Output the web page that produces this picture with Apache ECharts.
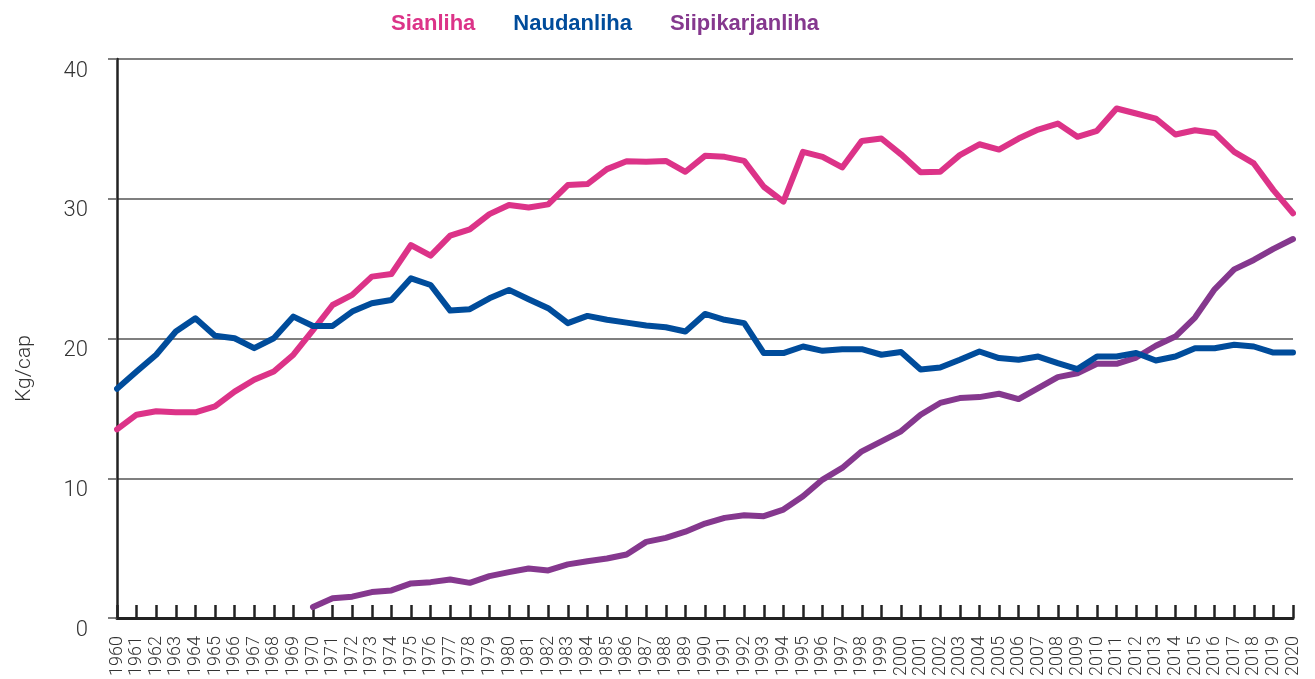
<!DOCTYPE html>
<html>
<head>
<meta charset="utf-8">
<title>Lihan kulutus</title>
<script src="https://cdn.jsdelivr.net/npm/echarts@6/dist/echarts.min.js"></script>
<style>
  html, body { margin: 0; padding: 0; background: #fff; }
  #chart { width: 1315px; height: 679px; }
</style>
</head>
<body>
<div id="chart"></div>
<script>
// vuodet 1960-2020
const years = []
for (let y = 1960; y <= 2020; y++) years.push(String(y))

const yTicks = [0, 10, 20, 30, 40]

// kg/cap
const sianliha = [
  13.5, 14.55, 14.8, 14.72, 14.72, 15.14, 16.2, 17.05, 17.64, 18.84,
  20.6, 22.4, 23.12, 24.43, 24.62, 26.69, 25.93, 27.36, 27.81, 28.9,
  29.55, 29.38, 29.6, 30.98, 31.05, 32.12, 32.69, 32.64, 32.71, 31.93,
  33.07, 33.0, 32.71, 30.86, 29.79, 33.36, 33.0, 32.24, 34.14, 34.31,
  33.18, 31.9, 31.93, 33.12, 33.9, 33.52, 34.31, 34.95, 35.38, 34.43,
  34.86, 36.46, 36.1, 35.74, 34.6, 34.9, 34.71, 33.36, 32.53, 30.62,
  28.96
]

const naudanliha = [
  16.41, 17.64, 18.84, 20.5, 21.45, 20.2, 20.02, 19.31, 20.02, 21.57,
  20.9, 20.9, 21.93, 22.52, 22.76, 24.31, 23.83, 22.0, 22.1, 22.88,
  23.48, 22.81, 22.17, 21.1, 21.62, 21.34, 21.14, 20.93, 20.81, 20.5,
  21.76, 21.34, 21.1, 18.96, 18.96, 19.43, 19.12, 19.24, 19.24, 18.84,
  19.03, 17.78, 17.93, 18.48, 19.07, 18.6, 18.48, 18.71, 18.24, 17.81,
  18.71, 18.71, 18.96, 18.43, 18.71, 19.31, 19.31, 19.55, 19.43, 19.0,
  19.0
]

const siipikarjanliha = [
  null, null, null, null, null, null, null, null, null, null,
  0.79, 1.41, 1.53, 1.86, 1.98, 2.48, 2.57, 2.76, 2.52, 3.0,
  3.29, 3.55, 3.41, 3.84, 4.07, 4.26, 4.55, 5.45, 5.74, 6.18,
  6.76, 7.17, 7.36, 7.29, 7.76, 8.71, 9.91, 10.74, 11.93, 12.64,
  13.36, 14.55, 15.39, 15.74, 15.81, 16.05, 15.67, 16.45, 17.24, 17.52,
  18.2, 18.19, 18.64, 19.48, 20.14, 21.5, 23.52, 24.95, 25.62, 26.41,
  27.12
]

const colors = {
  Sianliha: '#dc3388',
  Naudanliha: '#004c9b',
  Siipikarjanliha: '#85388e'
}

const chart = echarts.init(document.getElementById('chart'), null, { renderer: 'canvas' })

const lineSeries = (name, data, z) => ({
  name,
  type: 'line',
  data,
  z,
  symbol: 'none',
  connectNulls: false,
  animation: false,
  lineStyle: { color: colors[name], width: 6, cap: 'round', join: 'round' },
  itemStyle: { color: colors[name] }
})

chart.setOption({
  animation: false,
  legend: {
    left: 381,
    top: 8,
    icon: 'rect',
    itemWidth: 0,
    itemHeight: 0,
    itemGap: 33,
    selectedMode: false,
    textStyle: {
      fontFamily: 'Liberation Sans, Arial, sans-serif',
      fontWeight: 'bold',
      fontSize: 22
    },
    data: ['Sianliha', 'Naudanliha', 'Siipikarjanliha'].map((n) => ({
      name: n,
      textStyle: { color: colors[n] }
    }))
  },
  grid: {
    left: 117,
    right: 22,
    top: 59,
    bottom: 60,
    containLabel: false
  },
  xAxis: {
    type: 'category',
    data: years,
    boundaryGap: false,
    axisLine: { lineStyle: { color: '#222', width: 3 } },
    axisTick: {
      inside: true,
      length: 13,
      alignWithLabel: true,
      interval: 0,
      lineStyle: { color: '#222', width: 2.5 }
    },
    axisLabel: {
      interval: 0,
      rotate: 90,
      margin: 18,
      fontFamily: 'Roboto, sans-serif',
      fontWeight: 300,
      fontSize: 18,
      color: '#333'
    },
    splitLine: { show: false }
  },
  yAxis: {
    type: 'value',
    min: yTicks[0],
    max: yTicks[yTicks.length - 1],
    interval: 10,
    name: 'Kg/cap',
    nameLocation: 'middle',
    nameRotate: 90,
    nameGap: 82,
    nameTextStyle: {
      fontFamily: 'Roboto, sans-serif',
      fontWeight: 300,
      fontSize: 21,
      color: '#333',
      padding: [0, 60, 0, 0]
    },
    axisLine: { show: true, lineStyle: { color: '#222', width: 2.5 } },
    axisTick: { show: true, length: 9, lineStyle: { color: '#555', width: 1.5 } },
    axisLabel: {
      margin: 29,
      verticalAlign: 'top',
      padding: [1, 0, 0, 0],
      fontFamily: 'Roboto, sans-serif',
      fontWeight: 300,
      fontSize: 22,
      color: '#333'
    },
    splitLine: { show: true, lineStyle: { color: '#555', width: 1.5 } }
  },
  series: [
    lineSeries('Sianliha', sianliha, 2),
    lineSeries('Siipikarjanliha', siipikarjanliha, 3),
    lineSeries('Naudanliha', naudanliha, 4)
  ]
})
</script>
</body>
</html>
